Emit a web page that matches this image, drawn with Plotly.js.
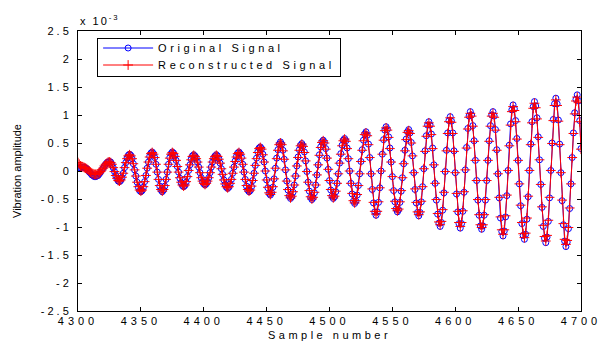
<!DOCTYPE html>
<html><head><meta charset="utf-8">
<script src="https://cdn.plot.ly/plotly-3.0.1.min.js"></script>
<style>
html,body{margin:0;padding:0;background:#fff;overflow:hidden;}
#chart{width:610px;height:341px;}
.xtick text{letter-spacing:4px;}
.ytick text{letter-spacing:3px;}
.legendtext{letter-spacing:3.6px;}
.g-xtitle text{letter-spacing:3.5px;}
.annotation-text{letter-spacing:2px;}
</style></head><body><div id="chart"></div>
<script>
const START_SAMPLE = 4300;
const originalSignal = [
0.05,0.05,0.06,0.07,0.07,0.07,0.05,0.04,0.01,-0.02,
-0.04,-0.07,-0.08,-0.10,-0.10,-0.09,-0.08,-0.05,-0.02,0.02,
0.05,0.09,0.12,0.15,0.16,0.17,0.16,0.12,0.06,-0.01,
-0.08,-0.14,-0.18,-0.19,-0.17,-0.12,-0.04,0.06,0.15,0.23,
0.28,0.30,0.28,0.22,0.13,0.02,-0.09,-0.20,-0.29,-0.35,
-0.37,-0.35,-0.29,-0.19,-0.08,0.05,0.16,0.26,0.32,0.34,
0.31,0.24,0.12,-0.02,-0.15,-0.27,-0.34,-0.37,-0.34,-0.27,
-0.15,-0.02,0.12,0.24,0.31,0.34,0.32,0.27,0.19,0.08,
-0.02,-0.13,-0.21,-0.26,-0.28,-0.26,-0.20,-0.10,0.01,0.11,
0.21,0.27,0.29,0.27,0.23,0.16,0.07,-0.03,-0.12,-0.19,
-0.23,-0.25,-0.23,-0.19,-0.12,-0.03,0.07,0.16,0.23,0.27,
0.29,0.27,0.22,0.14,0.04,-0.06,-0.16,-0.24,-0.29,-0.31,
-0.29,-0.23,-0.15,-0.04,0.07,0.18,0.26,0.32,0.34,0.31,
0.24,0.12,-0.02,-0.15,-0.27,-0.34,-0.37,-0.35,-0.28,-0.17,
-0.04,0.10,0.23,0.34,0.41,0.43,0.40,0.30,0.16,0.00,
-0.16,-0.30,-0.40,-0.43,-0.39,-0.29,-0.14,0.05,0.23,0.38,
0.48,0.52,0.48,0.37,0.21,0.02,-0.18,-0.34,-0.45,-0.49,
-0.46,-0.38,-0.25,-0.09,0.09,0.25,0.38,0.46,0.49,0.45,
0.34,0.18,-0.01,-0.20,-0.36,-0.47,-0.51,-0.48,-0.39,-0.25,
-0.07,0.11,0.29,0.43,0.52,0.55,0.51,0.40,0.23,0.03,
-0.17,-0.34,-0.45,-0.49,-0.46,-0.37,-0.22,-0.05,0.14,0.31,
0.46,0.55,0.58,0.54,0.41,0.22,0.00,-0.22,-0.41,-0.54,
-0.58,-0.54,-0.43,-0.26,-0.05,0.17,0.38,0.55,0.66,0.70,
0.64,0.48,0.24,-0.05,-0.33,-0.57,-0.73,-0.79,-0.73,-0.56,
-0.30,0.00,0.30,0.56,0.73,0.79,0.74,0.61,0.41,0.16,
-0.10,-0.35,-0.55,-0.68,-0.73,-0.69,-0.56,-0.36,-0.12,0.13,
0.37,0.57,0.70,0.74,0.68,0.51,0.27,-0.03,-0.33,-0.57,
-0.74,-0.80,-0.74,-0.55,-0.28,0.04,0.36,0.63,0.82,0.88,
0.82,0.66,0.41,0.11,-0.22,-0.52,-0.77,-0.93,-0.99,-0.92,
-0.70,-0.39,-0.01,0.37,0.68,0.90,0.97,0.89,0.68,0.36,
-0.03,-0.41,-0.73,-0.94,-1.02,-0.94,-0.72,-0.38,0.02,0.42,
0.76,0.98,1.06,1.00,0.81,0.54,0.19,-0.17,-0.52,-0.79,
-0.98,-1.04,-0.98,-0.79,-0.52,-0.17,0.19,0.54,0.81,1.00,
1.06,0.98,0.74,0.38,-0.05,-0.48,-0.84,-1.08,-1.16,-1.07,
-0.82,-0.44,0.01,0.46,0.84,1.09,1.18,1.11,0.90,0.58,
0.19,-0.23,-0.62,-0.94,-1.15,-1.22,-1.13,-0.86,-0.46,0.01,
0.48,0.88,1.15,1.24,1.16,0.95,0.61,0.20,-0.24,-0.65,
-0.99,-1.20,-1.28,-1.18,-0.90,-0.48,0.01,0.50,0.92,1.20,
1.30,1.20,0.91,0.48,-0.03,-0.53,-0.96,-1.25,-1.35,-1.27,
-1.03,-0.67,-0.23,0.24,0.68,1.04,1.28,1.36,1.25,0.90,
0.40];
const reconstructedSignal = [
0.15,0.12,0.09,0.08,0.07,0.06,0.05,0.04,0.02,0.00,
-0.02,-0.04,-0.05,-0.06,-0.06,-0.06,-0.05,-0.03,-0.01,0.02,
0.05,0.09,0.12,0.14,0.16,0.16,0.15,0.12,0.06,-0.01,
-0.08,-0.13,-0.17,-0.18,-0.16,-0.11,-0.04,0.06,0.15,0.22,
0.27,0.29,0.27,0.22,0.13,0.02,-0.09,-0.20,-0.28,-0.34,
-0.36,-0.34,-0.28,-0.19,-0.08,0.05,0.16,0.25,0.31,0.33,
0.30,0.24,0.12,-0.02,-0.15,-0.26,-0.33,-0.36,-0.33,-0.26,
-0.15,-0.02,0.12,0.23,0.30,0.33,0.31,0.26,0.19,0.08,
-0.02,-0.12,-0.20,-0.25,-0.27,-0.25,-0.19,-0.10,0.01,0.11,
0.20,0.26,0.28,0.26,0.22,0.16,0.07,-0.03,-0.12,-0.18,
-0.22,-0.24,-0.22,-0.18,-0.12,-0.03,0.07,0.16,0.22,0.26,
0.28,0.26,0.21,0.14,0.04,-0.06,-0.16,-0.23,-0.28,-0.30,
-0.28,-0.22,-0.15,-0.04,0.07,0.17,0.25,0.31,0.33,0.30,
0.23,0.12,-0.02,-0.15,-0.26,-0.33,-0.36,-0.34,-0.27,-0.17,
-0.04,0.10,0.22,0.33,0.40,0.42,0.39,0.29,0.16,0.00,
-0.16,-0.29,-0.39,-0.42,-0.38,-0.28,-0.14,0.05,0.22,0.37,
0.47,0.50,0.47,0.36,0.21,0.02,-0.18,-0.33,-0.44,-0.48,
-0.45,-0.37,-0.25,-0.09,0.09,0.24,0.37,0.45,0.48,0.44,
0.33,0.18,-0.01,-0.20,-0.35,-0.46,-0.50,-0.47,-0.38,-0.25,
-0.07,0.11,0.28,0.42,0.51,0.54,0.50,0.39,0.23,0.03,
-0.17,-0.33,-0.44,-0.48,-0.45,-0.36,-0.22,-0.05,0.14,0.30,
0.45,0.54,0.57,0.53,0.40,0.22,0.00,-0.22,-0.40,-0.53,
-0.57,-0.53,-0.42,-0.26,-0.05,0.17,0.37,0.54,0.65,0.68,
0.63,0.47,0.24,-0.05,-0.32,-0.56,-0.72,-0.77,-0.72,-0.55,
-0.30,0.00,0.30,0.55,0.72,0.77,0.73,0.60,0.40,0.16,
-0.10,-0.34,-0.54,-0.67,-0.71,-0.68,-0.55,-0.35,-0.12,0.13,
0.36,0.56,0.69,0.72,0.67,0.50,0.27,-0.03,-0.32,-0.56,
-0.73,-0.78,-0.73,-0.54,-0.28,0.04,0.35,0.62,0.80,0.86,
0.80,0.65,0.40,0.11,-0.22,-0.51,-0.76,-0.91,-0.96,-0.90,
-0.69,-0.38,-0.01,0.36,0.67,0.88,0.95,0.87,0.67,0.35,
-0.03,-0.40,-0.72,-0.92,-0.99,-0.92,-0.71,-0.37,0.02,0.41,
0.75,0.96,1.03,0.98,0.80,0.53,0.19,-0.17,-0.51,-0.78,
-0.96,-1.01,-0.96,-0.78,-0.51,-0.17,0.19,0.53,0.80,0.98,
1.03,0.96,0.73,0.37,-0.05,-0.47,-0.82,-1.05,-1.13,-1.05,
-0.80,-0.43,0.01,0.45,0.82,1.06,1.15,1.08,0.88,0.57,
0.19,-0.23,-0.61,-0.92,-1.12,-1.19,-1.11,-0.84,-0.45,0.01,
0.47,0.86,1.12,1.21,1.13,0.93,0.60,0.20,-0.24,-0.64,
-0.97,-1.17,-1.25,-1.15,-0.88,-0.47,0.01,0.49,0.90,1.17,
1.27,1.17,0.89,0.47,-0.03,-0.52,-0.94,-1.22,-1.31,-1.24,
-1.01,-0.66,-0.23,0.24,0.67,1.02,1.25,1.32,1.22,0.88,
0.39];
const sampleNumbers = originalSignal.map((_, i) => START_SAMPLE + i);
const xTickVals = [4300,4350,4400,4450,4500,4550,4600,4650,4700];
const yTickVals = [-2.5,-2,-1.5,-1,-0.5,0,0.5,1,1.5,2,2.5];
const yTickText = yTickVals.map(v => String(v));
const seriesNames = ['Original Signal', 'Reconstructed Signal'];

const FONT = 'Liberation Sans, Arial, Helvetica, sans-serif';
const traces = [
  {x: sampleNumbers, y: originalSignal, name: seriesNames[0], type: 'scatter', mode: 'lines+markers',
   line: {color: '#0000ff', width: 1},
   marker: {symbol: 'circle-open', size: 6, color: '#0000ff', line: {color: '#0000ff', width: 1}}},
  {x: sampleNumbers, y: reconstructedSignal, name: seriesNames[1], type: 'scatter', mode: 'lines+markers',
   line: {color: '#ff0000', width: 1},
   marker: {symbol: 'cross-thin-open', size: 7, color: '#ff0000', line: {color: '#ff0000', width: 1}}}
];
const axisCommon = {showline: true, linecolor: '#000', linewidth: 1, mirror: 'ticks', ticks: 'inside',
  ticklen: 4, tickcolor: '#000', tickwidth: 1, showgrid: false, zeroline: false,
  ticklabeloverflow: 'allow',
  tickfont: {family: FONT, size: 11, color: '#000'}};
const layout = {
  width: 610, height: 341,
  margin: {l: 78, r: 29, t: 31, b: 30},
  paper_bgcolor: '#fff', plot_bgcolor: '#fff',
  font: {family: FONT, size: 11, color: '#000'},
  showlegend: true,
  legend: {x: 0.038, y: 0.975, xanchor: 'left', yanchor: 'top', bgcolor: '#fff',
    bordercolor: '#000', borderwidth: 1, font: {family: FONT, size: 11, color: '#000'}, itemwidth: 50},
  xaxis: Object.assign({}, axisCommon, {range: [4300, 4700], tickmode: 'array', tickvals: xTickVals,
    ticktext: xTickVals.map(String), ticklabelstandoff: 0,
    title: {text: 'Sample number', font: {family: FONT, size: 11, color: '#000'}, standoff: 11}}),
  yaxis: Object.assign({}, axisCommon, {range: [-2.5, 2.5], tickmode: 'array', tickvals: yTickVals,
    ticktext: yTickText, ticklabelstandoff: 3,
    title: {text: 'Vibration amplitude', font: {family: FONT, size: 11, color: '#000'}, standoff: 16}}),
  annotations: [{xref: 'paper', yref: 'paper', x: 0, y: 1, xanchor: 'left', yanchor: 'bottom',
    yshift: 2, showarrow: false, text: 'x 10<sup>-3</sup>', font: {family: FONT, size: 11, color: '#000'}}]
};
Plotly.newPlot('chart', traces, layout, {displayModeBar: false, staticPlot: true}).then(gd => {
  // compact the legend rows to the reference's row pitch
  const leg = gd.querySelector('.legend');
  if (!leg) return;
  const items = leg.querySelectorAll('.traces');
  items.forEach((el, i) => {
    const m = /translate\(([-\d.]+)[ ,]+([-\d.]+)\)/.exec(el.getAttribute('transform') || '');
    const tx = m ? m[1] : 0;
    el.setAttribute('transform', 'translate(' + tx + ',' + (10 + i * 17) + ')');
  });
  const bg = leg.querySelector('rect.bg');
  if (bg) bg.setAttribute('height', 38);
});
</script></body></html>
